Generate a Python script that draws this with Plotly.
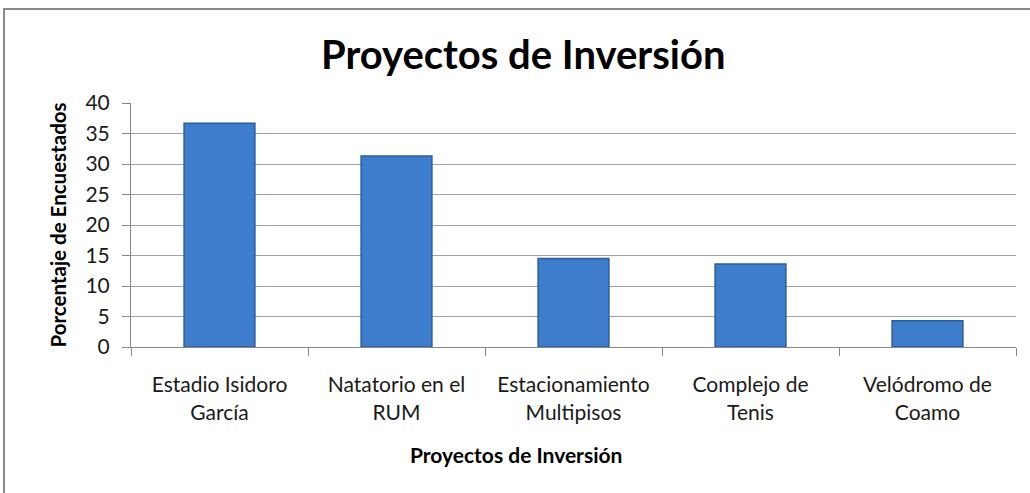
import plotly.graph_objects as go

categories = ["Estadio Isidoro<br>García", "Natatorio en el<br>RUM", "Estacionamiento<br>Multipisos",
              "Complejo de<br>Tenis", "Velódromo de<br>Coamo"]
values = [36.7, 31.3, 14.5, 13.6, 4.3]
y_ticks = [0, 5, 10, 15, 20, 25, 30, 35, 40]

FONT = "Lato, sans-serif"

fig = go.Figure(go.Bar(
    x=categories, y=values, width=0.4,
    marker=dict(color="#3D7DCC", line=dict(color="#2A5C9C", width=1.5)),
))

fig.update_layout(
    width=1030, height=493,
    margin=dict(l=131, r=14, t=103, b=146, autoexpand=False),
    paper_bgcolor="white", plot_bgcolor="white",
    showlegend=False,
    title=dict(text="<b>Proyectos de Inversión</b>", x=0.508, xanchor="center",
               y=0.888, yanchor="middle",
               font=dict(family=FONT, size=40, color="black")),
    font=dict(family=FONT, color="#1a1a1a"),
)
fig.update_xaxes(
    showline=True, linecolor="#888888", linewidth=1,
    ticks="outside", ticklen=8, tickcolor="#888888",
    tickson="boundaries",
    tickfont=dict(size=21),
    ticklabelstandoff=19,
    automargin=False,
)
fig.update_yaxes(
    range=[0, 40], tickvals=y_ticks, showgrid=True, gridcolor="#a0a0a0", gridwidth=1,
    showline=True, linecolor="#888888", linewidth=1,
    ticks="outside", ticklen=8, tickcolor="#888888",
    tickfont=dict(size=21),
    ticklabelstandoff=8,
    automargin=False,
    title=dict(text="<b>Porcentaje de Encuestados</b>", font=dict(size=20.5, color="black"), standoff=13),
    zeroline=False,
)
# x-axis title (centred on the chart, as in the reference)
fig.add_annotation(text="<b>Proyectos de Inversión</b>", xref="paper", yref="paper",
                   x=0.435, y=-0.4426, xanchor="center", yanchor="middle",
                   showarrow=False, font=dict(family=FONT, size=21, color="black"))
fig.add_shape(type="rect", xref="paper", yref="paper",
              x0=-0.1435, x1=1.2, y0=-1.0, y1=1.385,
              line=dict(color="#8a8a8a", width=2), fillcolor="rgba(0,0,0,0)")

fig.write_html("out.html", config={"displayModeBar": False},
               post_script="document.body.style.margin='0';")
